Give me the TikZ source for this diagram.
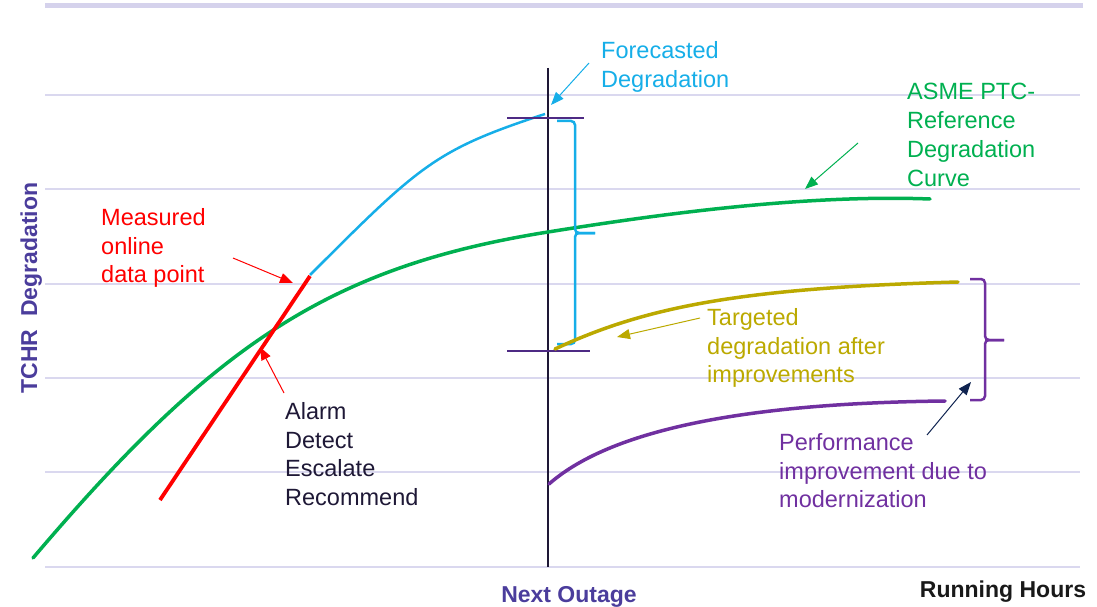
\documentclass[tikz,border=0pt]{standalone}
\usepackage{fontspec}
\setmainfont{Liberation Sans}
\usetikzlibrary{arrows.meta}
\definecolor{gridc}{HTML}{DAD8EF}
\definecolor{topc}{HTML}{D5D2EC}
\definecolor{axisc}{HTML}{4B3D9C}
\definecolor{darkc}{HTML}{1E1836}
\definecolor{tickc}{HTML}{4E2A84}
\definecolor{bluec}{HTML}{16AEE8}
\definecolor{greenc}{HTML}{00B050}
\definecolor{redc}{HTML}{FF0000}
\definecolor{olivec}{HTML}{BBA900}
\definecolor{purplec}{HTML}{7030A0}
\definecolor{navyc}{HTML}{0F2350}
\begin{document}
\begin{tikzpicture}[x=1pt,y=-1pt,
  gridline/.style={draw=gridc,line width=2pt},
  lbl/.style={anchor=north west,inner sep=0pt,align=left,font=\fontsize{23.5}{28.8}\selectfont},
  axlbl/.style={inner sep=0pt,font=\fontsize{23}{27}\selectfont\bfseries},
  ann/.style={-{Triangle[length=13pt,width=10pt]},line width=1pt},
  crv/.style={line width=3.5pt,line cap=round},
  brace/.style={line width=2.5pt,rounded corners=4pt}]
\useasboundingbox (0,0) rectangle (1097,607);
% background grid
\draw[draw=topc,line width=5pt] (45,6) -- (1083,6);
\foreach \yy in {95,189,284,378,472,567}
  \draw[gridline] (45,\yy) -- (1080,\yy);
% outage line
\coordinate (vtop) at (548,68);
\coordinate (vbot) at (548,567);
\draw[darkc,line width=2.8pt] (vtop) -- (vbot);
% green reference curve
\draw[crv,greenc] (33,558) .. controls (213,346) and (328,267) .. (548,232)
                  .. controls (648,216) and (800,194) .. (930,199);
% red measured line
\coordinate (r1) at (160,500);
\coordinate (r2) at (310,276);
\draw[redc,line width=3.8pt] (r1) -- (r2);
% blue forecast
\draw[bluec,line width=2.5pt] (310,275) .. controls (420,165) and (435,150) .. (545,114);
% purple ticks
\draw[tickc,line width=2.8pt] (507,118) -- (584,118);
\draw[tickc,line width=2.8pt] (507,351) -- (590,351);
% blue brace
\draw[brace,bluec] (557,121) -- (575,121) -- (575,233) -- (595,233);
\draw[brace,bluec] (595,233) -- (575,233) -- (575,344) -- (557,344);
% olive curve
\draw[crv,olivec] (555,349) .. controls (645,307) and (740,288) .. (958,282);
% purple curve
\draw[crv,purplec] (549,484) .. controls (615,426) and (760,403) .. (945,401);
% purple brace
\draw[brace,purplec] (970,279) -- (985,279) -- (985,340) -- (1004,340);
\draw[brace,purplec] (1004,340) -- (985,340) -- (985,400) -- (970,400);
% labels
\node[lbl,text=bluec] (fc) at (601,41) {Forecasted\\Degradation};
\node[lbl,text=greenc] (asme) at (907,83) {ASME PTC-\\Reference\\Degradation\\Curve};
\node[lbl,text=redc] (meas) at (101,208) {Measured\\online\\data point};
\node[lbl,text=darkc] (alarm) at (285,402) {Alarm\\Detect\\Escalate\\Recommend};
\node[lbl,text=olivec] (targ) at (707,308) {Targeted\\degradation after\\improvements};
\node[lbl,text=purplec] (perf) at (779,433) {Performance\\improvement due to\\modernization};
% axis labels
\node[axlbl,text=axisc,rotate=90,anchor=base] (ylab) at (37,288) {TCHR~~Degradation};
\node[axlbl,text=axisc,anchor=base] (xout) at (569,602) {Next Outage};
\node[axlbl,text=black!90,anchor=base] (xrun) at (1003,597) {Running Hours};
% annotation arrows
\coordinate (fcA) at (589,63);   \coordinate (fcB) at (551,105);
\coordinate (asA) at (858,143);  \coordinate (asB) at (805,189);
\coordinate (meA) at (233,258);  \coordinate (meB) at (293,283);
\coordinate (alA) at (284,393);  \coordinate (alB) at (260,347);
\coordinate (taA) at (700,318);  \coordinate (taB) at (617,337);
\coordinate (peA) at (927,435);  \coordinate (peB) at (971,382);
\draw[ann,bluec] (fcA) -- (fcB);
\draw[ann,greenc] (asA) -- (asB);
\draw[ann,redc] (meA) -- (meB);
\draw[ann,redc] (alA) -- (alB);
\draw[ann,olivec] (taA) -- (taB);
\draw[ann,navyc] (peA) -- (peB);
\end{tikzpicture}
\end{document}
